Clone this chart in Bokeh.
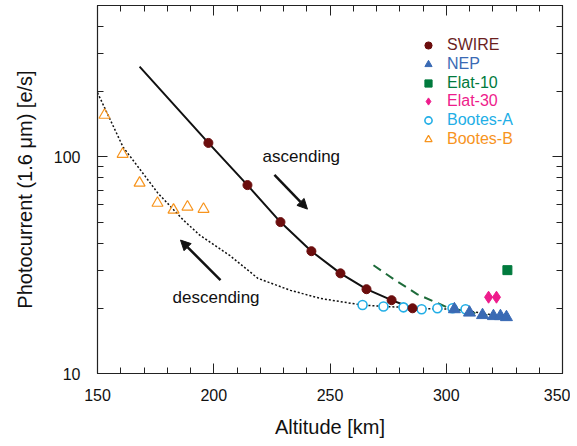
from bokeh.plotting import figure
from bokeh.models import (Range1d, LinearAxis, LogAxis, Legend, LegendItem, Arrow,
                          NormalHead, FixedTicker)
from bokeh.core.properties import value
from bokeh.embed import file_html
from bokeh.resources import INLINE

# ---------------- data ----------------
swire_x = [197.7, 214.5, 228.7, 242.0, 254.5, 265.7, 276.5, 285.5]
swire_y = [116, 74.1, 50.0, 36.7, 29.0, 24.5, 21.8, 20.0]

nep_x = [303.5, 310.0, 315.6, 320.3, 323.3, 325.9]
nep_y = [19.8, 19.1, 18.6, 18.4, 18.4, 18.2]

elat10_x = [326.3]
elat10_y = [30.0]

elat30_x = [318.2, 321.6]
elat30_y = [22.5, 22.5]

bootesA_x = [264.0, 273.0, 281.6, 289.4, 296.2, 302.7, 308.3]
bootesA_y = [20.7, 20.4, 20.2, 19.8, 20.0, 20.0, 19.8]

bootesB_x = [153.0, 160.8, 168.1, 175.8, 182.7, 188.7, 195.6]
bootesB_y = [156, 103, 75.8, 61.2, 56.9, 58.8, 57.4]

# ascending (solid) model curve
asc_x = [168.1, 197.7, 214.5, 228.7, 242.0, 254.5, 265.7, 276.5, 285.5]
asc_y = [261, 116, 74.1, 50.0, 36.7, 29.0, 24.5, 21.8, 20.0]

# descending (dotted) model curve
desc_x = [150, 161, 176, 187, 194, 207, 219, 233, 246, 259, 264, 273, 282, 289, 296, 303, 310, 318, 326]
desc_y = [198, 111, 68, 51, 43.5, 35, 27.5, 24.2, 22.2, 21.1, 20.7, 20.4, 20.2, 19.9, 19.9, 19.8, 19.4, 18.8, 18.2]

# green dashed curve
green_x = [268.7, 278, 287.6, 300.5, 310, 317.7]
green_y = [31.6, 27.0, 23.2, 20.2, 19.2, 18.6]

# annotations
label_text = ["ascending", "descending"]
label_x = [221.0, 182.3]
label_y = [100, 22.5]
arrow_start_x = [226.1, 202.9]
arrow_start_y = [82.6, 27.0]
arrow_end_x = [240.3, 185.7]
arrow_end_y = [57.4, 41.3]

x_major = [150, 200, 250, 300, 350]
x_minor = [160, 170, 180, 190, 210, 220, 230, 240, 260, 270, 280, 290, 310, 320, 330, 340]
y_major = [10, 100]
y_minor = [20, 30, 40, 50, 60, 70, 80, 90, 200, 300, 400, 500]

FONT = "Liberation Sans"

p = figure(width=570, height=445, x_range=Range1d(150, 350), y_range=Range1d(10, 500),
           y_axis_type="log", output_backend="svg", toolbar_location=None,
           min_border_left=97, min_border_right=8, min_border_top=5, min_border_bottom=72)
p.grid.visible = False
p.outline_line_color = "#222222"
p.outline_line_width = 1.2
p.background_fill_color = "white"
p.border_fill_color = "white"

xa = p.xaxis[0]
xa.ticker = FixedTicker(ticks=x_major, minor_ticks=x_minor)
xa.axis_label = "Altitude [km]"
ya = p.yaxis[0]
ya.ticker = FixedTicker(ticks=y_major, minor_ticks=y_minor)
ya.major_label_overrides = {v: str(v) for v in y_major}
ya.axis_label = "Photocurrent (1.6 μm) [e/s]"

for ax in (xa, ya):
    ax.axis_line_color = "#222222"
    ax.major_tick_line_color = "#222222"
    ax.minor_tick_line_color = "#222222"
    ax.major_tick_in = 10
    ax.major_tick_out = 0
    ax.minor_tick_in = 6
    ax.minor_tick_out = 0
    ax.major_label_text_font = FONT
    ax.major_label_text_font_size = "16px"
    ax.major_label_text_color = "#111111"
    ax.axis_label_text_font = FONT
    ax.axis_label_text_font_size = "20px"
    ax.axis_label_text_font_style = "normal"
    ax.axis_label_text_color = "#111111"
xa.major_label_standoff = 15
xa.axis_label_standoff = 12
ya.major_label_standoff = 17
ya.axis_label_standoff = 15

# mirror axes (ticks only)
top = LinearAxis(ticker=FixedTicker(ticks=x_major, minor_ticks=x_minor))
right = LogAxis(ticker=FixedTicker(ticks=y_major, minor_ticks=y_minor))
for ax in (top, right):
    ax.axis_line_color = "#222222"
    ax.major_tick_line_color = "#222222"
    ax.minor_tick_line_color = "#222222"
    ax.major_tick_in = 10
    ax.major_tick_out = 0
    ax.minor_tick_in = 6
    ax.minor_tick_out = 0
    ax.major_label_text_font_size = "1px"
    ax.major_label_text_alpha = 0
    ax.major_label_standoff = 0
p.add_layout(top, "above")
p.add_layout(right, "right")

# curves
p.line(desc_x, desc_y, line_color="#111111", line_width=1.5, line_dash="2 2")
p.line(green_x, green_y, line_color="#1e6b3a", line_width=2, line_dash="9 6")
p.line(asc_x, asc_y, line_color="#111111", line_width=2)

# points
r_bB = p.scatter(bootesB_x, bootesB_y, marker="triangle", size=11, fill_color="white", fill_alpha=0,
                 line_color="#f7941d", line_width=1.2)
r_bA = p.scatter(bootesA_x, bootesA_y, marker="circle", size=9, fill_color="white",
                 line_color="#22aee6", line_width=1.6)
r_nep = p.scatter(nep_x, nep_y, marker="triangle", size=12, fill_color="#3a6ab4", line_color="#3a6ab4")
r_sw = p.scatter(swire_x, swire_y, marker="circle", size=9, fill_color="#6b0d0d", line_color="#6b0d0d")
r_e10 = p.scatter(elat10_x, elat10_y, marker="square", size=9, fill_color="#007a3d", line_color="#007a3d")
r_e30 = p.scatter(elat30_x, elat30_y, marker="diamond", size=12, fill_color="#ee1c8c", line_color="#ee1c8c")

# annotations
p.text(label_x, label_y, text=label_text, text_font=value(FONT), text_font_size="17px",
       text_color="#111111", text_baseline="middle", text_align="left")
for i in range(len(arrow_start_x)):
    p.add_layout(Arrow(end=NormalHead(size=10, fill_color="#111111", line_color="#111111"),
                       x_start=arrow_start_x[i], y_start=arrow_start_y[i],
                       x_end=arrow_end_x[i], y_end=arrow_end_y[i],
                       line_color="#111111", line_width=2.5))

# legend (one per entry to colour each label)
entries = [("SWIRE", r_sw, "#6b1f1f"), ("NEP", r_nep, "#3a6ab4"), ("Elat-10", r_e10, "#007a3d"),
           ("Elat-30", r_e30, "#ee1c8c"), ("Bootes-A", r_bA, "#22aee6"), ("Bootes-B", r_bB, "#f7941d")]
for i, (name, r, col) in enumerate(entries):
    leg = Legend(items=[LegendItem(label=name, renderers=[r])],
                 location=(321, int(round(319 - i * 18.8))), padding=0, margin=0, spacing=0,
                 glyph_width=20, glyph_height=18, label_height=18, label_standoff=9,
                 label_text_font=FONT, label_text_font_size="16px", label_text_color=col,
                 border_line_alpha=0, background_fill_alpha=0)
    p.add_layout(leg, "center")

open("out.html", "w").write(file_html(p, INLINE))
